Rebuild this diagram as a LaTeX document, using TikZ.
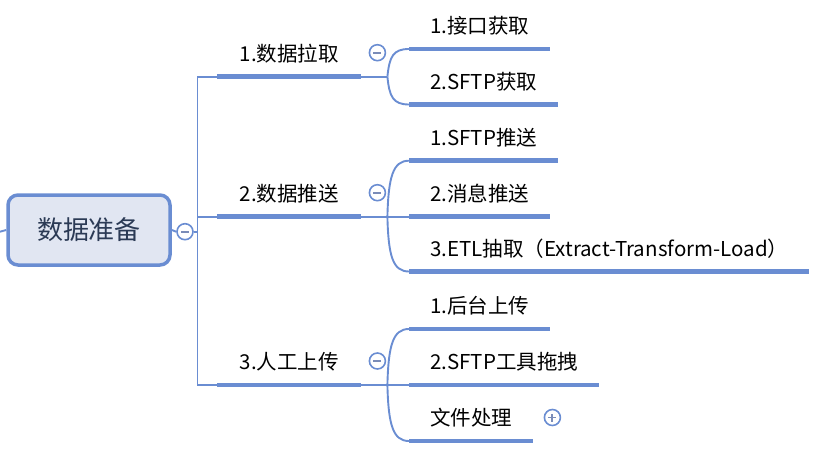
\documentclass[tikz,border=0pt]{standalone}
\usepackage{fontspec}
\setmainfont{Noto Sans CJK SC}
\definecolor{mapblue}{HTML}{6A8DD2}
\definecolor{rootfill}{HTML}{E1E6F2}
\definecolor{roottext}{HTML}{2B3A55}
\definecolor{signgray}{HTML}{7A8CB8}
\tikzset{
  link/.style={draw=mapblue, line width=1.9pt},
  bar/.style={draw=mapblue, line width=4.6pt},
  topic/.style={inner xsep=21pt, inner ysep=0pt, minimum height=46pt,
    anchor=south west, text=black, font=\fontsize{20.5}{24}\selectfont},
  fold/.style={circle, draw=mapblue, fill=white, line width=1.6pt,
    minimum size=16pt, inner sep=0pt,
    path picture={\draw[signgray, line width=1.9pt]
      ([xshift=-4pt]path picture bounding box.center) --
      ([xshift=4pt]path picture bounding box.center);}},
  unfold/.style={fold, path picture={\draw[signgray, line width=1.9pt]
      ([xshift=-4pt]path picture bounding box.center) --
      ([xshift=4pt]path picture bounding box.center)
      ([yshift=-4pt]path picture bounding box.center) --
      ([yshift=4pt]path picture bounding box.center);}}
}
\begin{document}
\begin{tikzpicture}[x=1pt,y=1pt]
  \useasboundingbox (0,0) rectangle (836,-452);

  % root
  \node[draw=mapblue, line width=3.5pt, fill=rootfill, rounded corners=10pt,
    minimum width=162pt, minimum height=70pt, text=roottext,
    font=\fontsize{26}{30}\selectfont] (0) at (89,-230) {数据准备};
  \node[fold] (m0) at (185,-231.7) {};
  \coordinate (l) at (0,-231.7);
  \coordinate (s) at (197.5,-231.7);

  % main topics
  \begin{scope}[every node/.style={topic, minimum width=144pt}]
    \node (b1) at (217,-76.7)  {1.数据拉取};
    \node (b2) at (217,-216.7) {2.数据推送};
    \node (b3) at (217,-385)   {3.人工上传};
  \end{scope}

  % subtopics
  \begin{scope}[every node/.style={topic}]
    \node (c11) at (409,-49)    {1.接口获取};
    \node (c12) at (409,-104.5) {2.SFTP获取};
    \node (c21) at (409,-160.7) {1.SFTP推送};
    \node (c22) at (409,-216.7) {2.消息推送};
    \node (c23) at (409,-271.5) {3.ETL抽取（Extract-Transform-Load）};
    \node (c31) at (409,-329)   {1.后台上传};
    \node (c32) at (409,-385)   {2.SFTP工具拖拽};
    \node (c33) at (409,-441)   {文件处理};
  \end{scope}

  \node[fold] (m1) at ([xshift=16pt,yshift=24pt]b1.south east) {};
  \node[fold] (m2) at ([xshift=16pt,yshift=24pt]b2.south east) {};
  \node[fold] (m3) at ([xshift=16pt,yshift=24pt]b3.south east) {};
  \node[unfold] (m33) at ([xshift=19pt,yshift=23.5pt]c33.south east) {};

  \foreach \n in {b1,b2,b3,c11,c12,c21,c22,c23,c31,c32,c33}
    \draw[bar] (\n.south west) -- (\n.south east);

  % root to spine
  \draw[link] (l) -- (0.west);
  \draw[link] (0.east) -- (m0.west);
  \draw[link] (m0.east) -- (s);
  \draw[link] (b1.south west) -| (s) |- (b3.south west);
  \draw[link] (b2.south west) -- (b2.south west -| s);

  % forks
  \foreach \b in {1,2,3}
    \coordinate (f\b) at ([xshift=26pt]b\b.south east);
  \foreach \b in {1,2,3}
    \draw[link] (b\b.south east) -- (f\b);

  \draw[link] (f1) .. controls +(2,20) and +(-16,0) .. (c11.south west);
  \draw[link] (f1) .. controls +(2,-20) and +(-16,0) .. (c12.south west);
  \draw[link] (f2) .. controls +(1,40) and +(-16,0) .. (c21.south west);
  \draw[link] (f2) -- (c22.south west);
  \draw[link] (f2) .. controls +(1,-40) and +(-16,0) .. (c23.south west);
  \draw[link] (f3) .. controls +(1,40) and +(-16,0) .. (c31.south west);
  \draw[link] (f3) -- (c32.south west);
  \draw[link] (f3) .. controls +(1,-40) and +(-16,0) .. (c33.south west);
\end{tikzpicture}
\end{document}
